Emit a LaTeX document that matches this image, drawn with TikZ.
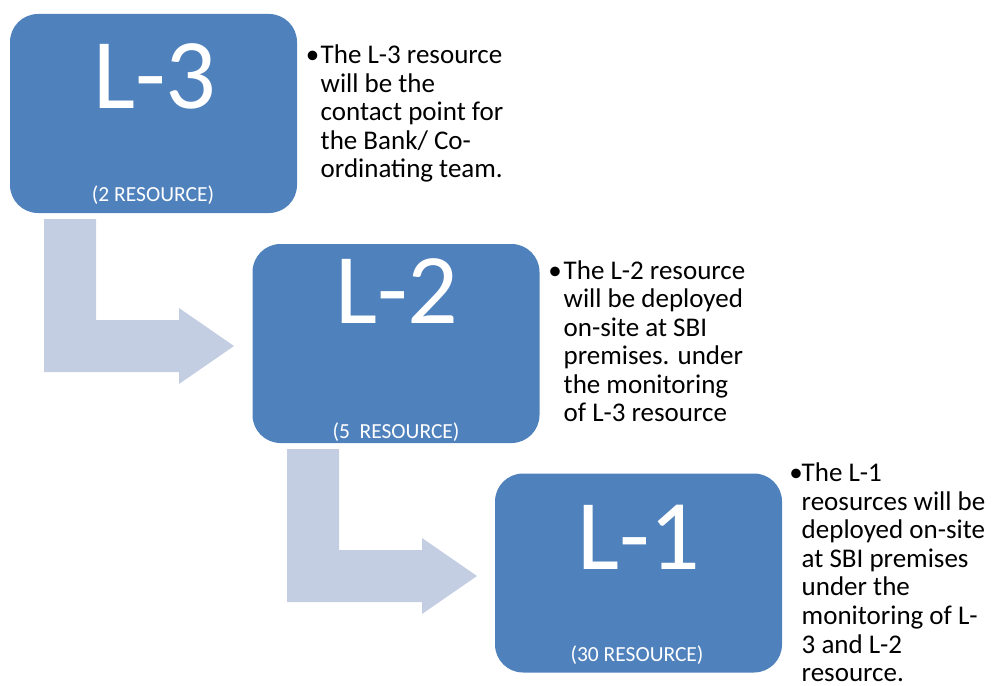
\documentclass[tikz,border=0pt]{standalone}
\usepackage{fontspec}
\setmainfont{Carlito}
\definecolor{boxblue}{RGB}{79,129,189}
\definecolor{arrowblue}{RGB}{196,206,227}
\tikzset{
  lvlbox/.style={fill=boxblue, draw=none, rounded corners=28pt, minimum width=287pt, minimum height=199pt, inner sep=0pt},
  biglbl/.style={text=white, inner sep=0pt, anchor=base, font=\fontsize{100}{110}\selectfont},
  reslbl/.style={text=white, inner sep=0pt, anchor=base, font=\fontsize{21.5}{24}\selectfont},
  txt/.style={text=black, inner sep=0pt, anchor=base west, font=\fontsize{27}{30}\selectfont},
  bul/.style={text=black, inner sep=0pt, anchor=base, font=\fontsize{27}{30}\selectfont},
  bendarrow/.style={fill=arrowblue, draw=none}
}
\begin{document}
\begin{tikzpicture}[x=1pt,y=-1pt]
\useasboundingbox (0,0) rectangle (992,685);
% bent arrows
\fill[bendarrow] (44,219) -- (96,219) -- (96,320) -- (179,320) -- (179,308) -- (234,346) -- (179,384) -- (179,372) -- (44,372) -- cycle;
\fill[bendarrow] (287,449) -- (339,449) -- (339,550) -- (422,550) -- (422,538) -- (477,576) -- (422,614) -- (422,602) -- (287,602) -- cycle;
% boxes
\node[lvlbox] (l3) at (153.5,113.5) {};
\node[lvlbox] (l2) at (396,343.5) {};
\node[lvlbox] (l1) at (638.5,573) {};
% labels
\node[biglbl] (l3t) at (155,108.5) {L-3};
\node[biglbl] (l2t) at (397,323) {L-2};
\node[biglbl] (l1t) at (639,569) {L-1};
\node[reslbl] (l3r) at (153,201) {(2 RESOURCE)};
\node[reslbl] (l2r) at (396,438.5) {(5\ \ RESOURCE)};
\node[reslbl] (l1r) at (637,661.5) {(30 RESOURCE)};
% bullet texts
\node[bul] (b3) at (312.5,63.5) {•};
\foreach \t [count=\i from 0] in {The L-3 resource, will be the, contact point for, the Bank/ Co-, ordinating team.}
  \node[txt] (t3-\i) at (320.5,63.5+\i*28.5) {\t};
\node[bul] (b2) at (555,279) {•};
\foreach \t [count=\i from 0] in {The L-2 resource, will be deployed, on-site at SBI, premises. under, the monitoring, of L-3 resource}
  \node[txt] (t2-\i) at (563.5,279+\i*28.5) {\t};
\node[bul] (b1) at (796,481.5) {•};
\foreach \t [count=\i from 0] in {The L-1, reosurces will be, deployed on-site, at SBI premises, under the, monitoring of L-, 3 and L-2, resource.}
  \node[txt] (t1-\i) at (801.5,481.5+\i*28.6) {\t};
\end{tikzpicture}
\end{document}
